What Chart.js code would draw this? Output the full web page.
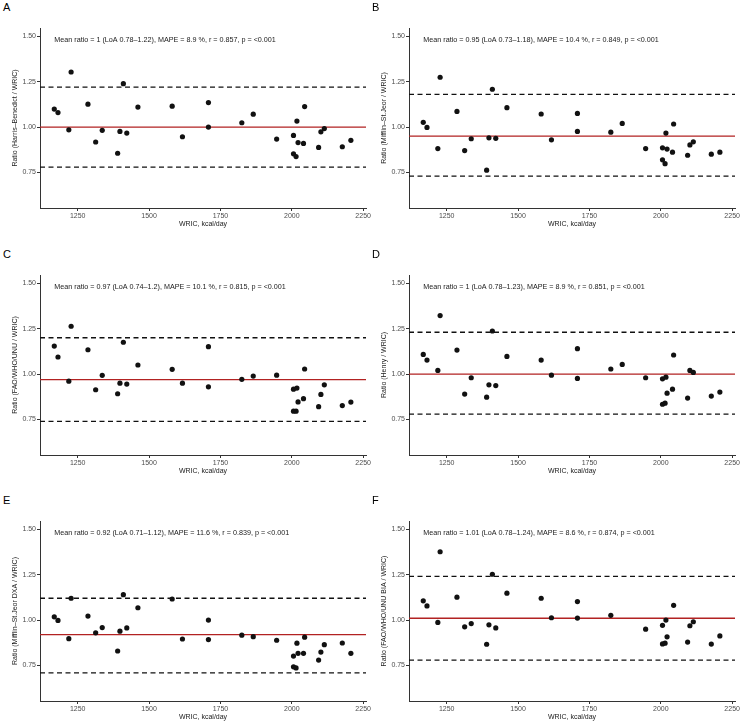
<!DOCTYPE html>
<html>
<head>
<meta charset="utf-8">
<script src="https://cdn.jsdelivr.net/npm/chart.js@4/dist/chart.umd.min.js"></script>
<style>
  html, body { margin: 0; padding: 0; background: #fff; overflow: hidden; }
  #wrap { position: relative; width: 740px; height: 722px; }
  canvas { position: absolute; }
  .tag { position: absolute; font: 11px "Liberation Sans", Arial, sans-serif; color: #000; }
</style>
</head>
<body>
<div id="wrap"></div>
<script>
'use strict';
//shared x values (measured energy expenditure)
let wric = [1168, 1181, 1219, 1227, 1286, 1313, 1336, 1390, 1398, 1410, 1422, 1461, 1581, 1617, 1708, 1708,
  1825, 1865, 1947, 2006, 2006, 2015, 2018, 2022, 2041, 2045, 2094, 2102, 2114, 2177, 2207];

//ratios per equation
let ratioHarris = [1.099, 1.080, 0.985, 1.303, 1.126, 0.918, 0.982, 0.856, 0.976, 1.239, 0.967, 1.110, 1.115, 0.947, 1.135, 1.000,
  1.024, 1.071, 0.934, 0.954, 0.853, 0.838, 1.033, 0.915, 0.910, 1.113, 0.888, 0.974, 0.992, 0.892, 0.927];
let ratioMifflin = [1.026, 0.998, 0.882, 1.274, 1.086, 0.871, 0.936, 0.763, 0.941, 1.208, 0.938, 1.107, 1.072, 0.930, 1.075, 0.976,
  0.972, 1.020, 0.882, 0.886, 0.820, 0.799, 0.967, 0.879, 0.862, 1.017, 0.845, 0.902, 0.919, 0.851, 0.862];
let ratioFao = [1.154, 1.094, 0.961, 1.263, 1.134, 0.914, 0.993, 0.892, 0.950, 1.175, 0.945, 1.050, 1.026, 0.950, 1.151, 0.930,
  0.971, 0.989, 0.994, 0.917, 0.796, 0.796, 0.923, 0.847, 0.865, 1.028, 0.821, 0.888, 0.941, 0.827, 0.846];
let ratioHenry = [1.108, 1.077, 1.020, 1.322, 1.132, 0.890, 0.980, 0.873, 0.941, 1.237, 0.937, 1.097, 1.077, 0.994, 1.140, 0.976,
  1.028, 1.053, 0.980, 0.974, 0.834, 0.840, 0.983, 0.895, 0.917, 1.105, 0.868, 1.020, 1.009, 0.879, 0.901];
let ratioMifflinDxa = [1.018, 0.998, 0.898, 1.120, 1.022, 0.930, 0.959, 0.830, 0.939, 1.140, 0.957, 1.068, 1.116, 0.896, 1.000, 0.893,
  0.917, 0.909, 0.889, 0.802, 0.743, 0.737, 0.873, 0.817, 0.817, 0.906, 0.780, 0.824, 0.865, 0.874, 0.817];
let ratioFaoBia = [1.106, 1.078, 0.987, 1.376, 1.126, 0.963, 0.981, 0.867, 0.974, 1.252, 0.957, 1.148, 1.120, 1.013, 1.102, 1.011,
  1.026, null, 0.950, 0.971, 0.869, 0.873, 1.000, 0.908, null, 1.081, 0.879, 0.969, 0.991, 0.868, 0.913];

//mean ratio and limits of agreement
let meanRatio = [1, 0.95, 0.97, 1, 0.92, 1.01];
let loaLow = [0.78, 0.73, 0.74, 0.78, 0.71, 0.78];
let loaHigh = [1.22, 1.18, 1.2, 1.23, 1.12, 1.24];

let panelTags = ['A', 'B', 'C', 'D', 'E', 'F'];
let yTitles = ['Ratio (Harris–Benedict / WRIC)', 'Ratio (Mifflin–St.Jeor / WRIC)', 'Ratio (FAO/WHO/UNU / WRIC)',
  'Ratio (Henry / WRIC)', 'Ratio (Mifflin–St.Jeor DXA / WRIC)', 'Ratio (FAO/WHO/UNU BIA / WRIC)'];
let statLines = [
  'Mean ratio = 1 (LoA 0.78–1.22), MAPE = 8.9 %, r = 0.857, p = <0.001',
  'Mean ratio = 0.95 (LoA 0.73–1.18), MAPE = 10.4 %, r = 0.849, p = <0.001',
  'Mean ratio = 0.97 (LoA 0.74–1.2), MAPE = 10.1 %, r = 0.815, p = <0.001',
  'Mean ratio = 1 (LoA 0.78–1.23), MAPE = 8.9 %, r = 0.851, p = <0.001',
  'Mean ratio = 0.92 (LoA 0.71–1.12), MAPE = 11.6 %, r = 0.839, p = <0.001',
  'Mean ratio = 1.01 (LoA 0.78–1.24), MAPE = 8.6 %, r = 0.874, p = <0.001'
];
let allRatios = [ratioHarris, ratioMifflin, ratioFao, ratioHenry, ratioMifflinDxa, ratioFaoBia];

//axes
let xTicks = [1250, 1500, 1750, 2000, 2250];
let yTicks = [0.75, 1.00, 1.25, 1.50];
let xMin = 1118;
let xMax = 2260;
let yMin = 0.555;
let yMax = 1.545;
let statX = 1168;
let statY = 1.48;

const FONT = '"Liberation Sans", Arial, sans-serif';
let wrap = document.getElementById('wrap');

//draws the stats line inside the plot
let statPlugin = {
  id: 'stat',
  afterDatasetsDraw(chart) {
    let ctx = chart.ctx;
    ctx.save();
    ctx.font = '7.2px ' + FONT;
    ctx.fillStyle = '#1a1a1a';
    ctx.textAlign = 'left';
    ctx.textBaseline = 'middle';
    ctx.fillText(chart.options.plugins.stat.text, chart.scales.x.getPixelForValue(statX), chart.scales.y.getPixelForValue(statY));
    ctx.restore();
  }
};

function hLine(y, color, dash) {
  return {
    data: [{x: xMin, y: y}, {x: xMax, y: y}],
    showLine: true,
    borderColor: color,
    borderWidth: 1.3,
    borderDash: dash,
    pointRadius: 0,
    order: 1
  };
}

function renderPanel(i) {
  let col = i % 2;
  let row = Math.floor(i / 2);
  let left = col === 0 ? 0 : 369;
  let top = row * 246.5;

  let tag = document.createElement('div');
  tag.className = 'tag';
  tag.textContent = panelTags[i];
  tag.style.left = (left + 3) + 'px';
  tag.style.top = (top + 1) + 'px';
  wrap.appendChild(tag);

  let canvas = document.createElement('canvas');
  canvas.width = 381;
  canvas.height = 229;
  canvas.style.left = left + 'px';
  canvas.style.top = top + 'px';
  wrap.appendChild(canvas);

  let points = [];
  for (let j = 0; j < wric.length; j++) {
    if (allRatios[i][j] !== null) {
      points.push({x: wric[j], y: allRatios[i][j]});
    }
  }

  new Chart(canvas.getContext('2d'), {
    type: 'scatter',
    data: {
      datasets: [
        {data: points, backgroundColor: '#111', borderWidth: 0, pointRadius: 2.6, order: 0},
        hLine(meanRatio[i], '#b22222', []),
        hLine(loaLow[i], '#111', [5, 3.5]),
        hLine(loaHigh[i], '#111', [5, 3.5])
      ]
    },
    options: {
      responsive: false,
      animation: false,
      layout: {padding: {top: 28, right: 15, left: 0, bottom: 0}},
      plugins: {legend: {display: false}, tooltip: {enabled: false}, stat: {text: statLines[i]}},
      scales: {
        x: {
          type: 'linear',
          min: xMin,
          max: xMax,
          afterBuildTicks: (scale) => { scale.ticks = xTicks.map(v => ({value: v})); },
          afterFit: (scale) => { scale.height = 21; },
          ticks: {color: '#4d4d4d', font: {size: 7, family: FONT}, padding: 1, maxRotation: 0, callback: v => String(v)},
          grid: {display: true, drawOnChartArea: false, drawTicks: true, tickLength: 3, color: '#333'},
          border: {display: true, color: '#333', width: 1},
          title: {display: true, text: 'WRIC, kcal/day', color: '#1a1a1a', font: {size: 7, family: FONT}, padding: {top: 0, bottom: 0.8}}
        },
        y: {
          type: 'linear',
          min: yMin,
          max: yMax,
          afterBuildTicks: (scale) => { scale.ticks = yTicks.map(v => ({value: v})); },
          afterFit: (scale) => { scale.width = 40; },
          ticks: {color: '#4d4d4d', font: {size: 7, family: FONT}, padding: 1, callback: v => v.toFixed(2)},
          grid: {display: true, drawOnChartArea: false, drawTicks: true, tickLength: 3, color: '#333'},
          border: {display: true, color: '#333', width: 1},
          title: {display: true, text: yTitles[i], color: '#1a1a1a', font: {size: 7, family: FONT}, padding: {top: 11, bottom: 0}}
        }
      }
    },
    plugins: [statPlugin]
  });
}

for (let i = 0; i < 6; i++) {
  renderPanel(i);
}
</script>
</body>
</html>
